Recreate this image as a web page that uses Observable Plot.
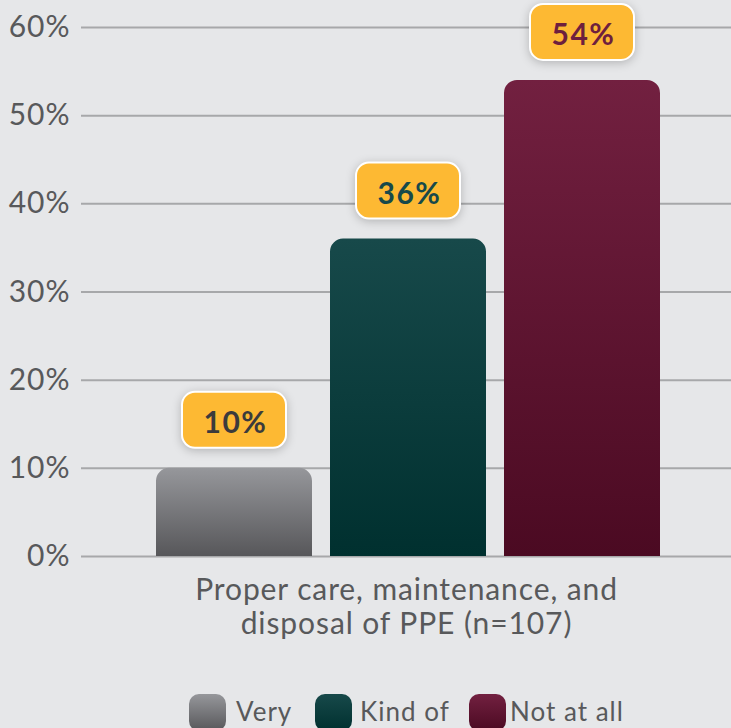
<!DOCTYPE html>
<html><head><meta charset="utf-8">
<script src="https://cdn.jsdelivr.net/npm/d3@7"></script>
<script src="https://cdn.jsdelivr.net/npm/@observablehq/plot@0.6"></script>
<style>
html,body{margin:0;padding:0;background:#e6e7e9;}
body{width:731px;height:728px;overflow:hidden;font-family:Lato,sans-serif;position:relative;}
#legend{position:absolute;left:0;top:0;width:731px;height:728px;}
.sw{position:absolute;top:694px;width:37px;height:37px;border-radius:10px;}
.lt{position:absolute;top:698px;font-size:26px;line-height:26px;color:#58595b;letter-spacing:1px;white-space:nowrap;}
</style></head><body><div id="chart"></div><div id="legend"></div>
<script>
const categories = ["Very", "Kind of", "Not at all"];
const values = [10, 36, 54];
const valueLabels = ["10%", "36%", "54%"];
const yTicks = [0, 10, 20, 30, 40, 50, 60];
const xLabel = "Proper care, maintenance, and\ndisposal of PPE (n=107)";
const gradTop = ["#96979b", "#17494a", "#722040"];
const gradBottom = ["#57575a", "#00302f", "#4b0a22"];
const labelColors = ["#3b3b3c", "#17494a", "#6e1f3e"];

const data = categories.map((c, i) => ({cat: c, value: values[i], label: valueLabels[i], grad: `url(#grad${i})`, tc: labelColors[i]}));

const svg = Plot.plot({
  width: 731, height: 650,
  marginLeft: 81, marginRight: 0, marginTop: 27, marginBottom: 94,
  style: {background: "transparent", fontFamily: "Lato, sans-serif", color: "#58595b", overflow: "visible"},
  x: {domain: categories, range: [155, 661], paddingInner: 0.103, paddingOuter: 0, axis: null},
  y: {domain: [0, 60], axis: null},
  color: {type: "identity"},
  marks: [
    Plot.gridY(yTicks, {stroke: "#a7a8aa", strokeOpacity: 1, strokeWidth: 2}),
    Plot.axisY(yTicks, {tickSize: 0, tickPadding: 11, tickFormat: d => d + "%", fontSize: 30, fill: "#58595b", label: null}),
    Plot.barY(data, {x: "cat", y: "value", fill: "grad", ry1: 13}),
    Plot.barY(data, {x: "cat", y1: "value", y2: "value", insetTop: -76, insetBottom: 20, insetLeft: 26, insetRight: 26, r: 13, fill: "#fdb933", stroke: "#ffffff", strokeWidth: 2}),
    Plot.text(data, {x: "cat", y: "value", text: "label", dy: -45, dx: 1, fill: "tc", fontWeight: 700, fontSize: 30}),
    Plot.text([xLabel], {frameAnchor: "bottom", lineAnchor: "top", dy: 19, lineHeight: 1.133, fontSize: 30, fill: "#58595b", text: d => d})
  ]
});

const ns = "http://www.w3.org/2000/svg";
const defs = document.createElementNS(ns, "defs");
gradTop.forEach((t, i) => {
  const g = document.createElementNS(ns, "linearGradient");
  g.setAttribute("id", "grad" + i);
  g.setAttribute("x1", "0"); g.setAttribute("y1", "0"); g.setAttribute("x2", "0"); g.setAttribute("y2", "1");
  [[0, t], [1, gradBottom[i]]].forEach(([o, c]) => {
    const s = document.createElementNS(ns, "stop");
    s.setAttribute("offset", o); s.setAttribute("stop-color", c);
    g.appendChild(s);
  });
  defs.appendChild(g);
});
svg.insertBefore(defs, svg.firstChild);
const barGroups = svg.querySelectorAll('g[aria-label="bar"]');
if (barGroups[1]) barGroups[1].style.filter = "drop-shadow(0px 2px 5px rgba(0,0,0,0.22))";
const textGroups = svg.querySelectorAll('g[aria-label="text"]');
if (textGroups[0]) textGroups[0].style.letterSpacing = "1.5px";
if (textGroups[1]) textGroups[1].style.letterSpacing = "0.9px";
const tickGroup = svg.querySelector('g[aria-label="y-axis tick label"]');
if (tickGroup) tickGroup.style.letterSpacing = "1px";
document.getElementById("chart").appendChild(svg);

const swatchLeft = [189, 315, 469];
const textLeft = [236, 360, 510];
const legend = document.getElementById("legend");
categories.forEach((c, i) => {
  const sw = document.createElement("div");
  sw.className = "sw";
  sw.style.left = swatchLeft[i] + "px";
  sw.style.background = `linear-gradient(${gradTop[i]}, ${gradBottom[i]})`;
  legend.appendChild(sw);
  const t = document.createElement("div");
  t.className = "lt";
  t.style.left = textLeft[i] + "px";
  t.textContent = c;
  legend.appendChild(t);
});
</script></body></html>
